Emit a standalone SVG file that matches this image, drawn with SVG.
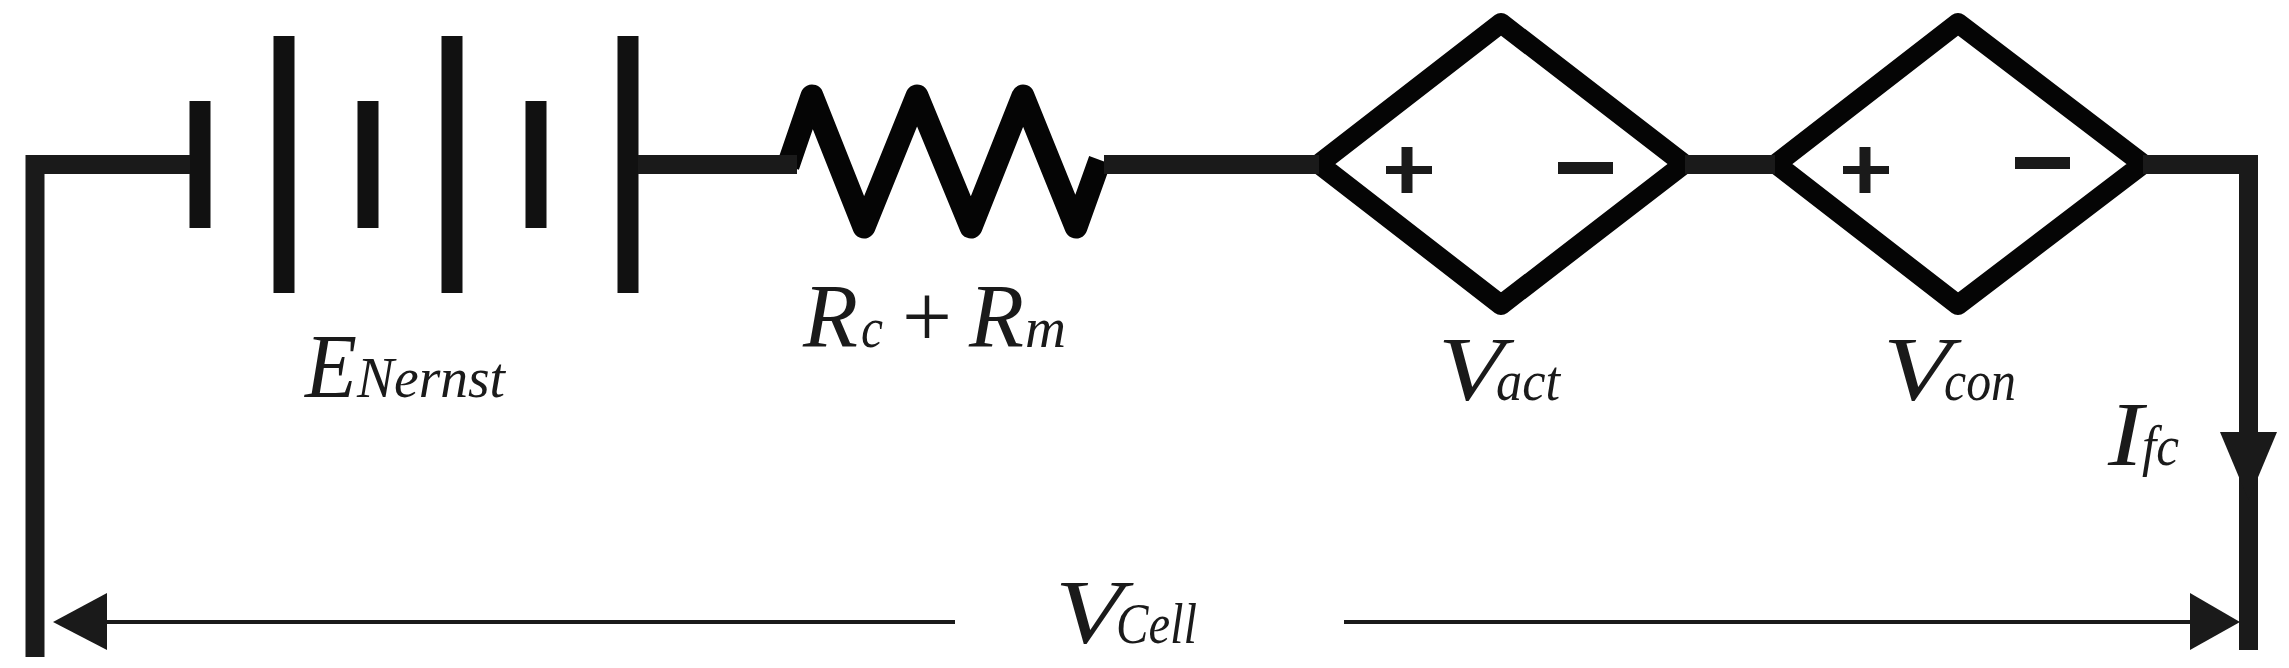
<svg xmlns="http://www.w3.org/2000/svg" width="2289" height="668" viewBox="0 0 2289 668">
<style>
.w{fill:none;stroke:#1a1a1a;stroke-width:19;stroke-linejoin:miter}
.p{fill:none;stroke:#111;stroke-width:21}
.z{fill:none;stroke:#050505;stroke-width:23;stroke-linejoin:round}
.d{fill:none;stroke:#050505;stroke-width:20;stroke-linejoin:round}
.s{fill:none;stroke:#1a1a1a}
.a{fill:#1a1a1a}
text{font-family:"Liberation Serif","Times New Roman",serif;font-style:italic;fill:#1a1a1a}
.b{font-size:92px}
.m{font-size:56px}
.u{font-style:normal}
</style>
<rect width="2289" height="668" fill="#fff"/>
<g id="battery">
<path class="p" d="M200 101V228M284 36V293M368 101V228M452 36V293M536 101V228M628 36V293"/>
<text x="305" y="397" class="b" textLength="52" lengthAdjust="spacingAndGlyphs">E</text>
<text x="357" y="397" class="m" textLength="148" lengthAdjust="spacingAndGlyphs">Nernst</text>
</g>
<g id="resistor">
<path class="z" d="M788 166L812 96L864 227L917 96L971 227L1023 96L1076 227L1100 160"/>
<text x="803" y="347" class="b" textLength="55" lengthAdjust="spacingAndGlyphs">R</text>
<text x="861" y="347" class="m" textLength="22" lengthAdjust="spacingAndGlyphs">c</text>
<text x="902" y="347" class="b u" textLength="50" lengthAdjust="spacingAndGlyphs">+</text>
<text x="969" y="347" class="b" textLength="55" lengthAdjust="spacingAndGlyphs">R</text>
<text x="1025" y="347" class="m" textLength="41" lengthAdjust="spacingAndGlyphs">m</text>
</g>
<g id="vact">
<path class="d" d="M1319 164L1501 23L1684 164L1501 305Z"/>
<path class="s" stroke-width="8" d="M1386 170H1432"/>
<path class="s" stroke-width="11" d="M1407 147V193"/>
<path class="s" stroke-width="12" d="M1558 168H1613"/>
<text x="1438" y="400" class="b" textLength="66" lengthAdjust="spacingAndGlyphs">V</text>
<text x="1496" y="400" class="m" textLength="64" lengthAdjust="spacingAndGlyphs">act</text>
</g>
<g id="vcon">
<path class="d" d="M1776 164L1958 23L2143 164L1958 305Z"/>
<path class="s" stroke-width="8" d="M1843 170H1889"/>
<path class="s" stroke-width="11" d="M1865 147V193"/>
<path class="s" stroke-width="12" d="M2015 163H2070"/>
<text x="1883" y="400" class="b" textLength="68" lengthAdjust="spacingAndGlyphs">V</text>
<text x="1944" y="400" class="m" textLength="72" lengthAdjust="spacingAndGlyphs">con</text>
</g>
<g id="ifc">
<text x="2108" y="465" class="b" textLength="35" lengthAdjust="spacingAndGlyphs">I</text>
<text x="2142" y="465" class="m" textLength="37" lengthAdjust="spacingAndGlyphs">fc</text>
</g>
<g id="vcell">
<text x="1055" y="643" class="b" textLength="68" lengthAdjust="spacingAndGlyphs">V</text>
<text x="1116" y="643" class="m" textLength="81" lengthAdjust="spacingAndGlyphs">Cell</text>
</g>
<g id="connectors">
<path class="w" d="M35 657V164.5H190"/>
<path class="w" d="M638 164.5H797"/>
<path class="w" d="M1104 164.5H1319"/>
<path class="w" d="M1685 164.5H1775"/>
<path class="w" d="M2143 164.5H2248.5V650"/>
<polygon class="a" points="2220,432 2277,432 2248.5,500"/>
<path class="s" stroke-width="4" d="M107 622H955M1344 622H2190"/>
<polygon class="a" points="107,593 107,650 53,622"/>
<polygon class="a" points="2190,593 2190,650 2240,622"/>
</g>
</svg>
